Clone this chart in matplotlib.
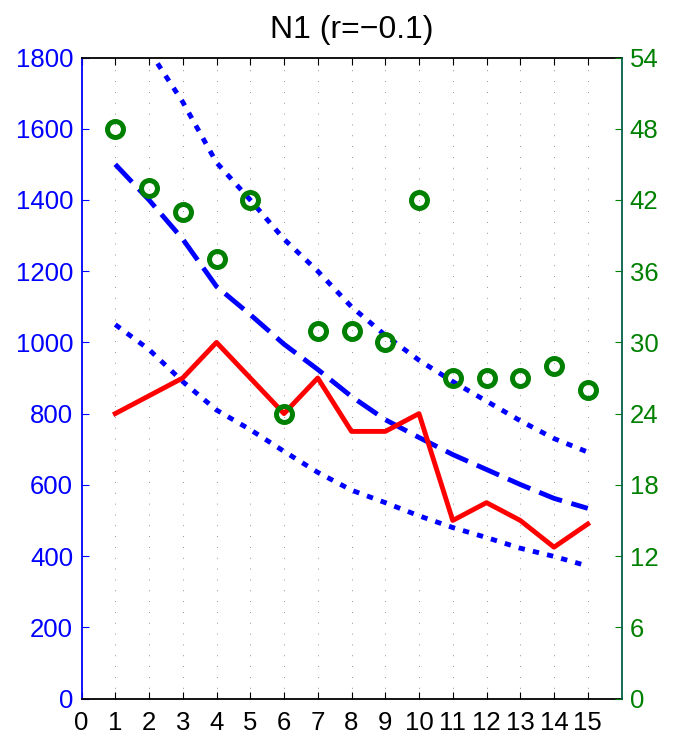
import numpy as np
import matplotlib.pyplot as plt

plt.rcParams['font.family'] = ['Liberation Sans', 'DejaVu Sans']

# data
x = np.arange(1, 16)
obs = [800, 850, 900, 1000, 900, 800, 900, 750, 750, 800, 500, 550, 500, 425, 490]
fit = [1500, 1400, 1290, 1157, 1078, 995, 924, 848, 783, 733, 685, 643, 601, 562, 534]
fit_hi = [1950, 1820, 1675, 1505, 1400, 1290, 1200, 1100, 1020, 950, 890, 835, 780, 730, 692]
fit_lo = [1050, 980, 890, 810, 755, 694, 635, 585, 550, 513, 480, 452, 422, 399, 372]
counts = [48, 43, 41, 37, 42, 24, 31, 31, 30, 42, 27, 27, 27, 28, 26]

fig = plt.figure(figsize=(6.73, 7.42), dpi=100)
ax = fig.add_axes([81.5 / 673, 1 - 698.5 / 742, 540 / 673, 641 / 742])

lw = 3.5
ax.plot(x, fit_hi, color='#0000FF', lw=lw, dashes=(1.3, 1.7), dash_capstyle='butt')
ax.plot(x, fit_lo, color='#0000FF', lw=lw, dashes=(1.3, 1.7), dash_capstyle='butt')
ax.plot(x, fit, color='#0000FF', lw=lw, dashes=(5.0, 2.0), dash_capstyle='butt')
ax.plot(x, obs, color='#FF0000', lw=lw)

ax.set_xlim(0, 16)
ax.set_ylim(0, 1800)
ax.set_xticks(range(0, 16))
ax.set_yticks(range(0, 1801, 200))
ax.grid(axis='x', color='#707070', lw=0.6, linestyle=(0, (1, 12)))
ax.tick_params(axis='x', direction='in', top=True, labelsize=18.5, colors='black', length=5, pad=9)
ax.tick_params(axis='y', direction='in', labelsize=18.5, colors='#0000FF', length=5, pad=6)
ax.spines['left'].set_color('#0000FF')
ax.spines['right'].set_visible(False)
for s in ax.spines.values():
    s.set_linewidth(1.3)

ax2 = ax.twinx()
ax2.plot(x, counts, linestyle='none', marker='o', ms=11.5, mfc='none',
         mec='#008000', mew=3.6)
ax2.set_ylim(0, 54)
ax2.set_yticks(range(0, 55, 6))
ax2.tick_params(axis='y', direction='in', labelsize=18.5, colors='#008000', length=5, pad=6)
ax2.spines['right'].set_color('#00604A')
ax2.spines['left'].set_visible(False)
ax2.spines['top'].set_visible(False)
ax2.spines['bottom'].set_visible(False)
ax2.spines['right'].set_linewidth(1.3)

ax.set_title('N1 (r=\u22120.1)', fontsize=23, pad=14)

fig.savefig('out.png', dpi=100)
